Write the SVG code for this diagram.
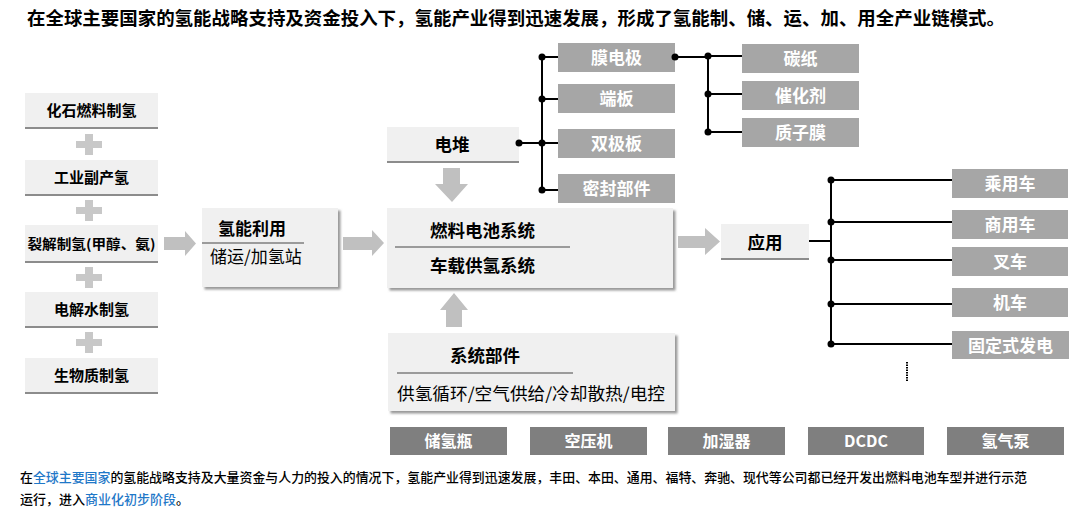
<svg xmlns="http://www.w3.org/2000/svg" width="1080" height="512" viewBox="0 0 1080 512">
<defs>
<style>
.t{font-family:"Noto Sans CJK SC","Noto Sans",sans-serif;fill:#000}
.b{font-weight:bold}
.m{font-weight:500}
.c{text-anchor:middle}
.w{fill:#fff}
.lb{fill:#f0f0f0}
.bl{stroke:#8c8c8c;stroke-width:2}
.ul{stroke:#7f7f7f;stroke-width:1.5}
.gb{fill:#a6a6a6}
.db{fill:#7f7f7f}
.ar{fill:#c0c0c0}
.pl{fill:#c8c8c8}
.cn{stroke:#000;stroke-width:2;fill:none}
.dot{fill:#000}
.blue{fill:#1f78c8}
</style>
<filter id="sh" x="-5%" y="-5%" width="115%" height="125%">
<feDropShadow dx="2.5" dy="2.5" stdDeviation="1.2" flood-color="#808080" flood-opacity="0.8"/>
</filter>
</defs>
<rect width="1080" height="512" fill="#fff"/>

<text class="t b" x="27" y="25" font-size="18.5" textLength="978" lengthAdjust="spacingAndGlyphs">在全球主要国家的氢能战略支持及资金投入下，氢能产业得到迅速发展，形成了氢能制、储、运、加、用全产业链模式。</text>

<!-- left production column -->
<g id="fossil"><rect class="lb" x="25" y="93" width="133" height="35"/><line class="bl" x1="25" y1="128" x2="158" y2="128"/><text class="t b c" x="91.5" y="116" font-size="15">化石燃料制氢</text></g>
<g id="industrial"><rect class="lb" x="25" y="160" width="133" height="35"/><line class="bl" x1="25" y1="195" x2="158" y2="195"/><text class="t b c" x="91.5" y="183" font-size="15">工业副产氢</text></g>
<g id="cracking"><rect class="lb" x="25" y="225" width="133" height="37"/><line class="bl" x1="25" y1="262" x2="158" y2="262"/><text class="t b c" x="91.5" y="249" font-size="13.5" textLength="128" lengthAdjust="spacingAndGlyphs">裂解制氢(甲醇、氨)</text></g>
<g id="electrolysis"><rect class="lb" x="25" y="292" width="133" height="35"/><line class="bl" x1="25" y1="327" x2="158" y2="327"/><text class="t b c" x="91.5" y="315" font-size="15">电解水制氢</text></g>
<g id="biomass"><rect class="lb" x="25" y="358" width="133" height="35"/><line class="bl" x1="25" y1="393" x2="158" y2="393"/><text class="t b c" x="91.5" y="381" font-size="15">生物质制氢</text></g>

<g id="plus-signs">
<path class="pl" d="M85 134h8v7h9v7h-9v7h-8v-7h-9v-7h9z"/>
<path class="pl" d="M85 200h8v7h9v7h-9v7h-8v-7h-9v-7h9z"/>
<path class="pl" d="M85 267h8v7h9v7h-9v7h-8v-7h-9v-7h9z"/>
<path class="pl" d="M85 332h8v7h9v7h-9v7h-8v-7h-9v-7h9z"/>
</g>

<!-- hydrogen utilization -->
<g id="h2-use">
<rect class="lb" x="202" y="208" width="136" height="79" filter="url(#sh)"/>
<text class="t b" x="218" y="235" font-size="17">氢能利用</text>
<line class="ul" x1="202" y1="243" x2="304" y2="243"/>
<text class="t" x="210" y="263" font-size="17">储运/加氢站</text>
</g>

<!-- stack -->
<g id="stack"><rect class="lb" x="387" y="127" width="132" height="35"/><line class="bl" x1="387" y1="162" x2="519" y2="162"/><text class="t b c" x="452" y="151" font-size="17.5">电堆</text></g>

<!-- fuel cell system -->
<g id="fc-system">
<rect class="lb" x="387" y="208" width="286" height="80" filter="url(#sh)"/>
<text class="t b" x="430" y="237" font-size="17.5">燃料电池系统</text>
<line class="ul" x1="395" y1="247" x2="570" y2="247"/>
<text class="t b" x="430" y="272" font-size="17.5">车载供氢系统</text>
</g>

<!-- system parts -->
<g id="sys-parts">
<rect class="lb" x="388" y="333" width="287" height="78" filter="url(#sh)"/>
<text class="t b" x="450" y="362" font-size="17.5">系统部件</text>
<line class="ul" x1="397" y1="373" x2="573" y2="373"/>
<text class="t" x="397" y="400" font-size="17" textLength="268" lengthAdjust="spacingAndGlyphs">供氢循环/空气供给/冷却散热/电控</text>
</g>

<!-- application -->
<g id="application"><rect class="lb" x="721" y="224" width="88" height="35"/><line class="bl" x1="721" y1="259" x2="809" y2="259"/><text class="t b c" x="765" y="249" font-size="17.5">应用</text></g>

<!-- stack components -->
<g id="mea"><rect class="gb" x="558" y="43" width="117" height="29"/><text class="t b c w" x="616.5" y="64" font-size="17">膜电极</text></g>
<g id="end-plate"><rect class="gb" x="558" y="84" width="117" height="29"/><text class="t b c w" x="616.5" y="105" font-size="17">端板</text></g>
<g id="bipolar"><rect class="gb" x="558" y="129" width="117" height="29"/><text class="t b c w" x="616.5" y="150" font-size="17">双极板</text></g>
<g id="seal"><rect class="gb" x="558" y="174" width="117" height="29"/><text class="t b c w" x="616.5" y="195" font-size="17">密封部件</text></g>

<!-- MEA components -->
<g id="carbon-paper"><rect class="gb" x="742" y="44" width="117" height="29"/><text class="t b c w" x="800.5" y="65" font-size="17">碳纸</text></g>
<g id="catalyst"><rect class="gb" x="742" y="81" width="117" height="29"/><text class="t b c w" x="800.5" y="102" font-size="17">催化剂</text></g>
<g id="membrane"><rect class="gb" x="742" y="118" width="117" height="29"/><text class="t b c w" x="800.5" y="139" font-size="17">质子膜</text></g>

<!-- applications -->
<g id="car"><rect class="gb" x="952" y="169" width="116" height="29"/><text class="t b c w" x="1010" y="190" font-size="17">乘用车</text></g>
<g id="commercial"><rect class="gb" x="952" y="210" width="116" height="29"/><text class="t b c w" x="1010" y="231" font-size="17">商用车</text></g>
<g id="forklift"><rect class="gb" x="952" y="247" width="116" height="29"/><text class="t b c w" x="1010" y="268" font-size="17">叉车</text></g>
<g id="locomotive"><rect class="gb" x="952" y="288" width="116" height="29"/><text class="t b c w" x="1010" y="309" font-size="17">机车</text></g>
<g id="stationary"><rect class="gb" x="952" y="331" width="117" height="28"/><text class="t b c w" x="1010.5" y="351.5" font-size="17">固定式发电</text></g>

<!-- bottom parts -->
<g id="tank"><rect class="db" x="390" y="427" width="117" height="28"/><text class="t b c w" x="448.5" y="447" font-size="16">储氢瓶</text></g>
<g id="compressor"><rect class="db" x="530" y="427" width="117" height="28"/><text class="t b c w" x="588.5" y="447" font-size="16">空压机</text></g>
<g id="humidifier"><rect class="db" x="668" y="427" width="117" height="28"/><text class="t b c w" x="726.5" y="447" font-size="16">加湿器</text></g>
<g id="dcdc"><rect class="db" x="808" y="427" width="116" height="28"/><text class="t b c w" x="866" y="447" font-size="16">DCDC</text></g>
<g id="pump"><rect class="db" x="947" y="427" width="117" height="28"/><text class="t b c w" x="1005.5" y="447" font-size="16">氢气泵</text></g>

<!-- connectors -->
<g id="connectors">
<path class="ar" d="M164 237h21v-6l11 12.5l-11 12.5v-6h-21z"/>
<path class="ar" d="M343 237h29v-7l12 13l-12 13v-6h-29z"/>
<path class="ar" d="M678 236h27v-8l15 13.5l-15 13.5v-7h-27z"/>
<path class="ar" d="M443 168h17v16h8l-16 18l-17-18h8z"/>
<path class="ar" d="M454 293l14 17h-6v17h-16v-17h-6z"/>

<path class="cn" d="M519 143H542M542 57V190M542 57H558M542 99H558M542 143H558M542 190H558"/>
<circle class="dot" cx="519" cy="143" r="3.5"/>
<circle class="dot" cx="542" cy="57" r="3.5"/>
<circle class="dot" cx="542" cy="99" r="3.5"/>
<circle class="dot" cx="542" cy="143" r="3.5"/>
<circle class="dot" cx="542" cy="190" r="3.5"/>

<path class="cn" d="M675 57H708M708 56V132M708 56H742M708 94H742M708 132H742"/>
<circle class="dot" cx="675" cy="57" r="3.5"/>
<circle class="dot" cx="708" cy="56" r="3.5"/>
<circle class="dot" cx="708" cy="94" r="3.5"/>
<circle class="dot" cx="708" cy="132" r="3.5"/>

<path class="cn" d="M809 241H831M831 180V344M831 180H952M831 222H952M831 260H952M831 304H952M831 344H952"/>
<circle class="dot" cx="831" cy="180" r="3.5"/>
<circle class="dot" cx="831" cy="222" r="3.5"/>
<circle class="dot" cx="831" cy="260" r="3.5"/>
<circle class="dot" cx="831" cy="304" r="3.5"/>
<circle class="dot" cx="831" cy="344" r="3.5"/>

<line x1="907" y1="362" x2="907" y2="382" stroke="#000" stroke-width="2" stroke-dasharray="1.5 1"/>
</g>

<!-- footnote -->
<text class="t m" x="20" y="482" font-size="13" textLength="1007" lengthAdjust="spacingAndGlyphs">在<tspan class="blue">全球主要国家</tspan>的氢能战略支持及大量资金与人力的投入的情况下，氢能产业得到迅速发展，丰田、本田、通用、福特、奔驰、现代等公司都已经开发出燃料电池车型并进行示范</text>
<text class="t m" x="20" y="504" font-size="13">运行，进入<tspan class="blue">商业化初步阶段</tspan>。</text>
</svg>
